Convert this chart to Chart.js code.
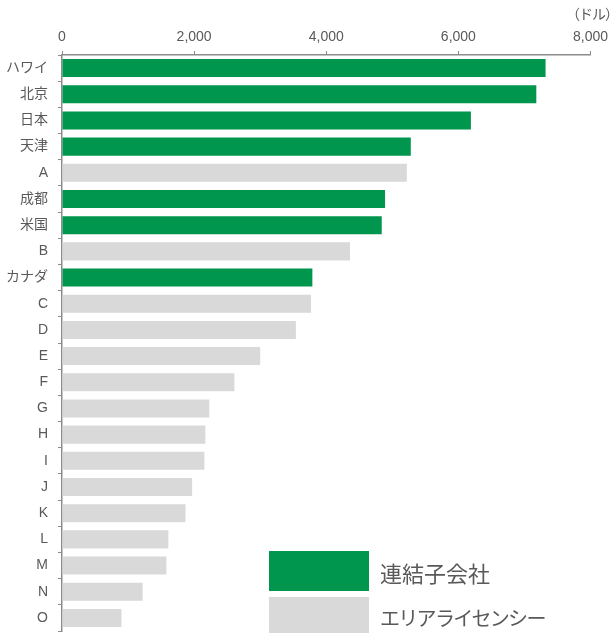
<!DOCTYPE html>
<html><head><meta charset="utf-8">
<script src="https://cdn.jsdelivr.net/npm/chart.js@4/dist/chart.umd.min.js"></script>
<style>
html,body{margin:0;padding:0;background:#fff;overflow:hidden}
#wrap{position:relative;width:613px;height:633px}
#unit{position:absolute;left:566px;top:3px;font:14px "Noto Sans CJK JP";color:#595959;letter-spacing:-1px}
.lg{position:absolute;left:269px;width:100px}
.lt{position:absolute;left:380px;font:22px "Noto Sans CJK JP";color:#595959;line-height:1;white-space:nowrap}
</style></head><body>
<div id="wrap">
<canvas id="c" width="613" height="633"></canvas>
<div id="unit">（ドル）</div>
<div class="lg" style="top:551px;height:40px;background:#00964E"></div>
<div class="lt" style="top:561px">連結子会社</div>
<div class="lg" style="top:597px;height:40px;background:#D9D9D9"></div>
<div class="lt" style="top:608px;font-size:20px;letter-spacing:-1.7px">エリアライセンシー</div>
</div>
<script>
const categories = ["ハワイ","北京","日本","天津","A","成都","米国","B","カナダ","C","D","E","F","G","H","I","J","K","L","M","N","O"];
const values = [7320,7180,6190,5280,5220,4890,4840,4360,3790,3770,3540,3000,2610,2230,2170,2155,1970,1870,1610,1580,1220,900];
const groups = ["連結子会社","連結子会社","連結子会社","連結子会社","エリアライセンシー","連結子会社","連結子会社","エリアライセンシー","連結子会社","エリアライセンシー","エリアライセンシー","エリアライセンシー","エリアライセンシー","エリアライセンシー","エリアライセンシー","エリアライセンシー","エリアライセンシー","エリアライセンシー","エリアライセンシー","エリアライセンシー","エリアライセンシー","エリアライセンシー"];
const xTicks = [0,2000,4000,6000,8000];
const groupColors = {"連結子会社":"#00964E","エリアライセンシー":"#D9D9D9"};

const font = {family:'"Liberation Sans","Noto Sans CJK JP",sans-serif', size:14};
new Chart(document.getElementById('c'), {
  type:'bar',
  data:{labels:categories, datasets:[{data:values, backgroundColor:groups.map(g=>groupColors[g]), barPercentage:0.69, categoryPercentage:1}]},
  options:{
    indexAxis:'y', responsive:false, animation:false,
    layout:{padding:{top:0,right:21,bottom:2,left:0}},
    plugins:{legend:{display:false}, tooltip:{enabled:false}},
    scales:{
      x:{position:'top', min:0, max:8000,
        afterBuildTicks:s=>{s.ticks = xTicks.map(v=>({value:v}));},
        afterFit:s=>{s.height=55;},
        ticks:{font, color:'#595959', padding:5, callback:v=>v.toLocaleString('en-US')},
        grid:{drawOnChartArea:false, drawTicks:true, tickLength:4, color:'#8c8c8c'},
        border:{color:'#8c8c8c', width:1.5}},
      y:{afterFit:s=>{s.width=62; s.paddingTop=0; s.paddingBottom=0;},
        ticks:{font, color:'#595959', padding:10, autoSkip:false},
        grid:{drawOnChartArea:false, drawTicks:true, tickLength:4, color:'#8c8c8c', offset:true},
        border:{color:'#8c8c8c', width:1.5}}
    }
  }
});
</script>
</body></html>
